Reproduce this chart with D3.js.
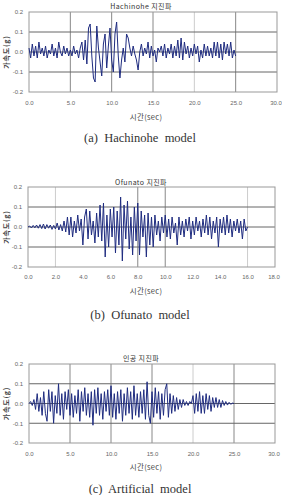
<!DOCTYPE html>
<html>
<head>
<meta charset="utf-8">
<script src="https://cdn.jsdelivr.net/npm/d3@7"></script>
<style>
  body { margin: 0; background: #fff; }
  svg { display: block; }
  .tick text { font-family: "Liberation Sans", Arial, sans-serif; font-size: 6px; fill: #666; }
</style>
</head>
<body>
<svg id="canvas" width="282" height="495"></svg>
<script>
// ground acceleration (g), sampled every dt seconds
let hachinoheAcc = [
  0.02,-0.03,0.04,-0.02,0.03,-0.03,0.05,-0.01,0.02,-0.02,
  0.03,-0.03,0.01,-0.01,0.04,-0.02,0.02,-0.03,0.05,0.0,
  -0.02,0.03,-0.01,0.02,-0.02,0.01,-0.02,0.03,-0.01,0.01,
  -0.03,0.02,0.05,-0.04,0.06,-0.06,0.12,0.14,-0.02,-0.13,
  -0.15,0.13,0.02,-0.05,-0.12,0.04,0.09,-0.08,0.03,0.12,
  -0.04,-0.1,0.09,0.15,-0.02,-0.13,-0.04,0.02,-0.05,0.09,
  0.07,0.02,-0.02,0.03,-0.01,-0.04,-0.09,0.0,0.04,-0.02,
  0.02,-0.01,0.05,-0.03,0.03,-0.02,0.01,-0.05,0.02,0.0,
  0.03,-0.02,0.04,-0.03,0.02,-0.01,0.04,-0.03,0.03,-0.02,
  0.06,-0.03,0.07,-0.04,0.05,-0.01,0.03,-0.03,0.02,-0.02,
  0.04,-0.01,0.03,-0.05,0.01,-0.03,0.04,-0.02,0.03,-0.02,
  0.02,-0.03,0.05,-0.02,0.05,-0.03,0.04,-0.04,0.05,-0.01,
  0.04,-0.02,0.05,-0.03,0.01,-0.02
];
let ofunatoAcc = [
  0.0,0.005,-0.005,0.008,-0.004,0.01,-0.006,0.012,-0.008,0.015,
  -0.01,0.012,-0.006,0.01,-0.012,0.008,-0.01,0.02,-0.015,0.012,
  -0.02,0.03,-0.025,0.05,-0.04,0.05,-0.05,0.03,-0.03,0.06,
  -0.02,0.04,-0.09,0.05,0.09,-0.06,0.08,-0.04,0.03,-0.08,
  0.07,-0.05,0.11,-0.07,0.12,-0.15,0.06,-0.1,0.09,-0.05,
  0.1,-0.13,0.08,-0.09,0.15,-0.17,0.11,-0.06,0.13,-0.11,
  0.05,-0.14,0.1,-0.07,0.12,-0.14,0.08,-0.05,0.06,-0.15,
  0.07,-0.09,0.05,-0.1,0.06,-0.04,0.03,-0.07,0.05,-0.03,
  0.06,-0.05,0.04,-0.06,0.05,-0.03,0.02,-0.09,0.05,-0.04,
  0.03,-0.05,0.04,-0.02,0.05,-0.06,0.03,-0.04,0.05,-0.02,
  0.03,-0.05,0.04,-0.03,0.06,-0.04,0.05,-0.06,0.03,-0.03,
  0.05,-0.1,0.04,-0.03,0.05,-0.04,0.06,-0.03,0.04,-0.05,
  0.03,-0.02,0.04,-0.03,0.03,-0.06,0.04,-0.02,0.0
];
let artificialAcc = [
  0.0,0.01,-0.01,0.02,-0.03,0.05,-0.04,0.03,-0.06,0.06,
  -0.05,-0.09,0.07,-0.04,0.06,-0.1,0.04,-0.05,0.1,-0.06,
  0.05,-0.08,0.06,-0.03,0.07,-0.06,0.05,-0.07,0.04,-0.05,
  0.07,-0.09,0.06,-0.04,0.08,-0.06,0.05,-0.07,0.06,-0.11,
  0.07,-0.05,0.08,-0.06,0.05,-0.08,0.06,-0.04,0.07,-0.06,
  0.09,-0.07,0.05,-0.08,0.06,-0.05,0.07,-0.09,0.05,-0.06,
  0.08,-0.05,0.06,-0.08,0.09,-0.06,0.05,-0.07,0.06,-0.05,
  0.07,-0.08,0.11,-0.06,-0.1,0.06,-0.07,0.08,-0.05,0.06,
  -0.08,0.05,-0.06,0.07,0.1,-0.07,0.05,-0.05,0.04,-0.04,
  0.03,-0.03,0.02,-0.02,0.02,-0.01,0.01,-0.01,0.01,0.0,
  0.04,-0.05,0.05,-0.04,0.06,-0.05,0.04,-0.05,0.05,-0.03,
  0.04,-0.04,0.03,-0.02,0.03,-0.02,0.02,-0.02,0.015,-0.01,
  0.01,-0.008,0.006,-0.004,0.002,0.0
];

let yTicks = [-0.2, -0.1, 0.0, 0.1, 0.2];
let xTicks30 = [0, 5, 10, 15, 20, 25, 30];
let xTicks18 = [0, 2, 4, 6, 8, 10, 12, 14, 16, 18];

let titles = ["Hachinohe 지진파", "Ofunato 지진파", "인공 지진파"];
let captions = ["(a)  Hachinohe  model", "(b)  Ofunato  model", "(c)  Artificial  model"];
let xLabel = "시간(sec)";
let yLabel = "가속도(g)";

let charts = [
  {data: hachinoheAcc, dt: 0.2, xMax: 30, xTicks: xTicks30, grid: [5, 10, 15, 20, 25],
   left: 29, right: 277, top: 12, bottom: 92, titleY: 6, tickY: 104, labelY: 117, captionY: 142},
  {data: ofunatoAcc, dt: 0.125, xMax: 18, xTicks: xTicks18, grid: [2, 8, 10, 16],
   left: 28, right: 275, top: 187, bottom: 267, titleY: 182, tickY: 278, labelY: 291, captionY: 319},
  {data: artificialAcc, dt: 0.2, xMax: 30, xTicks: xTicks30, grid: [5, 10, 15, 20, 25],
   left: 29, right: 275, top: 364, bottom: 443, titleY: 358, tickY: 455, labelY: 467, captionY: 493}
];

let canvas = d3.select("#canvas");

let drawChart = (c, i) => {
  let x = d3.scaleLinear().domain([0, c.xMax]).range([c.left, c.right]);
  let y = d3.scaleLinear().domain([-0.2, 0.2]).range([c.bottom, c.top]);
  let g = canvas.append("g");

  // vertical grid
  g.selectAll(".vgrid")
  .data(c.grid)
  .enter()
  .append("line")
  .attr("x1", d => x(d)).attr("x2", d => x(d))
  .attr("y1", c.top).attr("y2", c.bottom)
  .attr("stroke", d => (i == 1 && d == 2) || d == 20 || d == 16 ? "#ccc" : "#888")
  .attr("stroke-width", 1);

  // horizontal grid
  g.selectAll(".hgrid")
  .data(yTicks.slice(1, -1))
  .enter()
  .append("line")
  .attr("x1", c.left).attr("x2", c.right)
  .attr("y1", d => y(d)).attr("y2", d => y(d))
  .attr("stroke", "#666")
  .attr("stroke-width", 1);

  g.append("rect")
  .attr("x", c.left).attr("y", c.top)
  .attr("width", c.right - c.left).attr("height", c.bottom - c.top)
  .attr("fill", "none").attr("stroke", "#999").attr("stroke-width", 1);

  let line = d3.line()
  .x((d, k) => x(k * c.dt))
  .y(d => y(d));

  g.append("path")
  .datum(c.data)
  .attr("d", line)
  .attr("fill", "none")
  .attr("stroke", "#1f2c80")
  .attr("stroke-width", 1)
  .attr("stroke-linejoin", "round");

  let xAxis = d3.axisBottom(x).tickValues(c.xTicks).tickSize(0).tickFormat(d => d.toFixed(1));
  g.append("g")
  .attr("transform", "translate(0," + (c.tickY - 6) + ")")
  .call(xAxis)
  .call(a => a.select(".domain").remove())
  .call(a => a.selectAll(".tick:last-of-type text").attr("dx", -1.5));

  let yAxis = d3.axisLeft(y).tickValues(yTicks).tickSize(0).tickPadding(6).tickFormat(d => d.toFixed(1));
  g.append("g")
  .attr("transform", "translate(" + c.left + ",0)")
  .call(yAxis)
  .call(a => a.select(".domain").remove());

  g.append("text")
  .attr("x", 141).attr("y", c.titleY + 2.5)
  .attr("text-anchor", "middle")
  .style("font-family", "'Noto Sans CJK KR', sans-serif")
  .style("font-size", "7px")
  .style("letter-spacing", "0.4px")
  .attr("fill", "#333")
  .text(titles[i]);

  g.append("text")
  .attr("x", 146).attr("y", c.labelY + 2.5)
  .attr("text-anchor", "middle")
  .style("font-family", "'Noto Sans CJK KR', sans-serif")
  .style("font-size", "7.5px")
  .style("letter-spacing", "0.3px")
  .attr("fill", "#444")
  .text(xLabel);

  g.append("text")
  .attr("transform", "translate(9," + ((c.top + c.bottom) / 2) + ") rotate(-90)")
  .attr("text-anchor", "middle")
  .style("font-family", "'Noto Sans CJK KR', sans-serif")
  .style("font-size", "7px")
  .style("font-weight", "bold")
  .style("letter-spacing", "0.8px")
  .attr("fill", "#444")
  .text(yLabel);

  g.append("text")
  .attr("x", 140).attr("y", c.captionY)
  .attr("text-anchor", "middle")
  .style("font-family", "'Liberation Serif', 'DejaVu Serif', serif")
  .style("font-size", "12.5px")
  .style("white-space", "pre")
  .attr("fill", "#333")
  .text(captions[i]);
};

charts.forEach(drawChart);
</script>
</body>
</html>
